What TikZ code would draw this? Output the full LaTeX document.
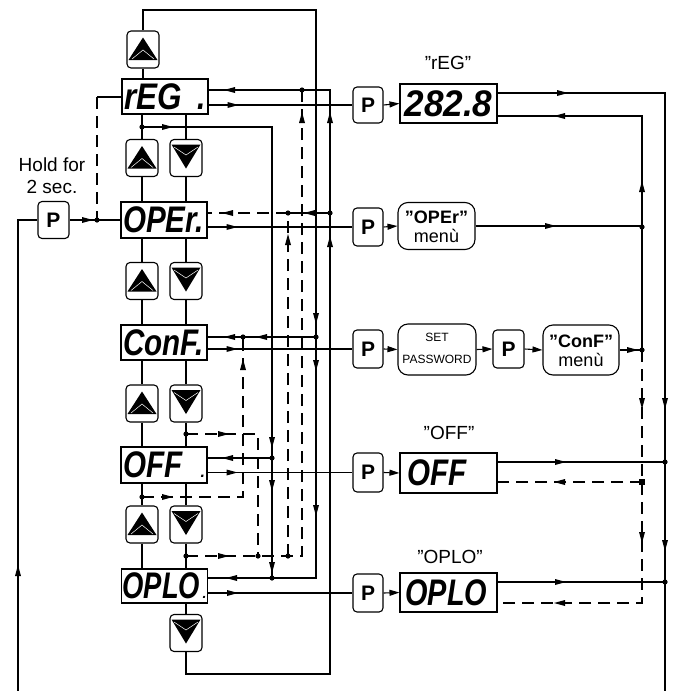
\documentclass[tikz,border=0pt]{standalone}
\usepackage{fontspec}
\usepackage{graphicx}
\setmainfont{Liberation Sans}
\usetikzlibrary{arrows.meta,calc}
\newcommand\arrowat[3]{\pic[rotate=#3] at (#1,#2) {ah};}
\newcommand\jdot[1]{\fill (#1) circle (2.6pt);}
\newcommand\segtext[2][0.8]{\scalebox{#1}[1]{#2}}
\newcommand\qq{\char34\relax}
\tikzset{
  ln/.style={line width=1.1pt},
  dsh/.style={line width=1.1pt, dash pattern=on 12pt off 7pt},
  bx/.style={draw, line width=1.1pt, fill=white, inner sep=0pt},
  disp/.style={bx, minimum width=86pt, minimum height=35pt, font=\fontsize{37}{37}\selectfont\bfseries\itshape},
  rdisp/.style={disp, minimum width=97pt, minimum height=39pt},
  btn/.style={bx, rounded corners=4pt, minimum width=32pt, minimum height=37pt},
  pbtn/.style={btn, minimum width=31pt, font=\fontsize{21}{21}\selectfont\bfseries},
  menu/.style={bx, rounded corners=10pt, minimum width=77pt, minimum height=47pt, align=center},
  mtxt/.style={font=\fontsize{18}{20}\selectfont},
  lbl/.style={font=\fontsize{19}{21}\selectfont},
  ah/.pic={\fill[black] (1,0) -- (-10,3) -- (-10,-3) -- cycle;},
  tip/.style={-{Triangle[length=10pt,width=6pt]}},
  upb/.style={btn, path picture={
    \fill[black, sharp corners] ($(path picture bounding box.center)+(0,-12)$) -- ++(-14.5,22.5) -- ++(29,0) -- cycle;
    \draw[white, line width=0.5pt, sharp corners] ($(path picture bounding box.center)+(-11,9.5)$) -- ++(11,-9) -- ++(11,9);
  }},
  dnb/.style={btn, path picture={
    \fill[black, sharp corners] ($(path picture bounding box.center)+(0,10.5)$) -- ++(-14.5,-24) -- ++(29,0) -- cycle;
    \draw[white, line width=0.5pt, sharp corners] ($(path picture bounding box.center)+(-12,-11)$) -- ++(12,8) -- ++(12,-8);
  }},
}
\begin{document}
\begin{tikzpicture}[x=1pt,y=-1pt]
\useasboundingbox (0,0) rectangle (674,691);

% ---------- left column ----------
\node[upb] (upT) at (143,49.5) {};
\node[disp] (reg) at (165,96.5) {\hbox to 82pt{\segtext[0.85]{rEG}\hss\segtext{.}}};
\node[upb] (up1) at (142,158) {};
\node[dnb] (dn1) at (186,158) {};
\node[disp,minimum height=36pt] (oper) at (164,220) {\hbox to 82pt{\segtext{OPEr.}\hss}};
\node[upb] (up2) at (142,281) {};
\node[dnb] (dn2) at (186,281) {};
\node[disp] (conf) at (164,342.5) {\hbox to 82pt{\segtext{ConF.}\hss}};
\node[upb] (up3) at (142,403.5) {};
\node[dnb] (dn3) at (186,403.5) {};
\node[disp,minimum height=36pt] (off) at (164,465) {\hbox to 82pt{\segtext{OFF}\hss{\fontsize{16}{16}\selectfont.}}};
\node[upb] (up4) at (142,524.5) {};
\node[dnb] (dn4) at (186,524.5) {};
\node[disp,minimum height=34pt] (oplo) at (164.5,586) {\hbox to 84pt{\segtext[0.74]{OPLO}\hss{\fontsize{14}{14}\selectfont.}}};
\node[dnb] (dnB) at (186,633) {};

\node[pbtn] (pH) at (53.5,220) {P};
\node[lbl] (hold1) at (52,165) {Hold for};
\node[lbl] (hold2) at (52,187) {2 sec.};

% ---------- right column ----------
\node[lbl] (lr) at (448,63) {\qq rEG\qq};
\node[pbtn,minimum width=30pt,minimum height=36pt] (pR) at (368,105) {P};
\node[rdisp] (dR) at (448.5,103.5) {\segtext[0.95]{282.8}};

\node[pbtn,minimum width=30pt,minimum height=38pt] (pO) at (368,227) {P};
\node[menu] (mO) at (436.5,226) {};
\node[mtxt,font=\fontsize{18}{20}\selectfont\bfseries] (mO1) at (436.5,217) {\qq OPEr\qq};
\node[mtxt] (mO2) at (436.5,236) {menù};

\node[pbtn,minimum width=30pt,minimum height=38pt] (pC) at (368,349) {P};
\node[menu,minimum width=78pt,minimum height=51pt] (sp) at (437,349.5) {};
\node[font=\fontsize{12}{14}\selectfont] (sp1) at (437,337) {SET};
\node[font=\fontsize{12}{14}\selectfont] (sp2) at (437,359) {PASSWORD};
\node[pbtn,minimum width=31pt,minimum height=38pt] (pC2) at (508.5,349) {P};
\node[menu,minimum width=76pt,minimum height=50pt] (mC) at (581,350) {};
\node[mtxt,font=\fontsize{18}{20}\selectfont\bfseries] (mC1) at (581,341) {\qq ConF\qq};
\node[mtxt] (mC2) at (581,360) {menù};

\node[lbl] (lf) at (449,433) {\qq OFF\qq};
\node[pbtn,minimum width=30pt,minimum height=39pt] (pF) at (368,472.5) {P};
\node[rdisp,minimum height=40pt] (dF) at (448.5,473) {\hbox to 92pt{\hskip5pt\segtext{OFF}\hss}};

\node[lbl] (ll) at (450,557) {\qq OPLO\qq};
\node[pbtn,minimum width=30pt,minimum height=38pt] (pL) at (368,593) {P};
\node[rdisp] (dL) at (448.5,592.5) {\hbox to 92pt{\hskip3pt\segtext[0.78]{OPLO}\hss}};

% ---------- junction coordinates ----------
\coordinate (j1) at (up1.north |- 0,127);
\coordinate (j2) at (dn3.south |- 0,434);
\coordinate (j3) at (up4.north |- 0,497);
\coordinate (j4) at (dn4.south |- 0,556);
\coordinate (jH) at (97,220);
\coordinate (r1) at (642,227);
\coordinate (r2) at (642,350);

% ---------- vertical chains ----------
\draw[ln] (upT.south) -- (upT.south |- reg.north);
\foreach \a/\u/\d/\b in {reg/up1/dn1/oper, oper/up2/dn2/conf, conf/up3/dn3/off, off/up4/dn4/oplo}{
  \draw[ln] (\u.north |- \a.south) -- (\u.north);
  \draw[ln] (\u.south) -- (\u.south |- \b.north);
  \draw[ln] (\d.north |- \a.south) -- (\d.north);
  \draw[ln] (\d.south) -- (\d.south |- \b.north);
}
\draw[ln] (dnB.north |- oplo.south) -- (dnB.north);

% ---------- hold P ----------
\draw[ln] (pH.west) -- (18,220) -- (18,691);
\arrowat{18}{566}{90}
\draw[ln] (pH.east) -- (oper.west);
\arrowat{92}{220}{0}
\draw[dsh] (97,97) -- (jH);
\draw[ln] (97,97) -- (reg.west |- 0,97);

% ---------- top loop (upT -> OPLO) ----------
\draw[ln] (upT.north) -- (upT.north |- 0,10) -- (316,10) -- (316,578) -- (oplo.east |- 0,578);
\arrowat{316}{323}{270}\arrowat{316}{370}{270}\arrowat{316}{515}{270}
\arrowat{227}{578}{180}

% ---------- bottom loop (dnB -> rEG) ----------
\draw[ln] (dnB.south) -- (dnB.south |- 0,674) -- (330,674) -- (330,90) -- (reg.east |- 0,90);
\arrowat{330}{113}{90}\arrowat{330}{237}{90}\arrowat{225}{90}{180}

% OPEr input
\draw[ln] (330,213) -- (288,213);
\draw[dsh] (288,213) -- (oper.east |- 0,213);
\arrowat{305}{213}{180}\arrowat{223}{213}{180}

% ConF input
\draw[ln] (316,337) -- (conf.east |- 0,337);
\arrowat{257}{337}{180}\arrowat{225}{337}{180}

% x = 272 line
\draw[ln] (j1) -- (272,127) -- (272,578);
\arrowat{172}{127}{0}
\arrowat{272}{447}{270}\arrowat{272}{490}{270}\arrowat{272}{572}{270}
\draw[ln] (272,458) -- (off.east |- 0,458);
\arrowat{223}{458}{180}

% dashed lines
\draw[dsh] (j4) -- (302,556) -- (302,90);
\arrowat{228}{556}{0}\arrowat{302}{113}{90}
\draw[dsh] (288,556) -- (288,213);
\arrowat{288}{235}{90}
\draw[dsh] (j2) -- (258,434) -- (258,556);
\arrowat{228}{434}{0}
\draw[dsh] (j3) -- (243,497) -- (243,337);
\arrowat{172}{497}{0}\arrowat{243}{360}{90}

% outputs to P buttons
\foreach \s/\p in {reg/pR, oper/pO, conf/pC, off/pF, oplo/pL}{
  \draw[ln] (\s.east |- \p.west) -- (\p.west);
  \pic at ($(\s.east |- \p.west)+(29,0)$) {ah};
}

% right side
\draw[ln,tip] (pR.east) -- (dR.west);
\draw[ln,tip] (pO.east) -- (mO.west);
\draw[ln,tip] (pC.east) -- (sp.west);
\draw[ln,tip] (sp.east) -- (pC2.west);
\draw[ln,tip] (pC2.east) -- (mC.west);
\draw[ln,tip] (pF.east) -- (dF.west);
\draw[ln,tip] (pL.east) -- (dL.west);

\draw[ln] (dR.east |- 0,93) -- (665,93) -- (665,691);
\arrowat{567}{93}{0}\arrowat{665}{408}{270}\arrowat{665}{550}{270}
\draw[ln] (r2) -- (642,116) -- (dR.east |- 0,116);
\arrowat{642}{182}{90}\arrowat{555}{116}{180}
\draw[ln] (mO.east) -- (mO.east -| r1);
\arrowat{555}{226}{0}
\draw[ln] (mC.east) -- (mC.east -| r2);
\arrowat{637}{350}{0}
\draw[dsh] (r2) -- (642,603) -- (dL.east |- 0,603);
\arrowat{642}{408}{270}\arrowat{642}{542}{270}\arrowat{555}{603}{180}
\draw[dsh] (642,482) -- (dF.east |- 0,482);
\arrowat{555}{482}{180}
\draw[ln] (dF.east |- 0,462) -- (665,462);
\arrowat{565}{462}{0}
\draw[ln] (dL.east |- 0,582) -- (665,582);
\arrowat{565}{582}{0}

% dots
\foreach \c in {jH,j1,j2,j3,j4,r1,r2}{\jdot{\c}}
\foreach \x/\y in {302/90, 330/213, 288/213, 243/337, 316/337, 272/458, 272/578, 258/556, 288/556, 665/462, 665/582}{\fill (\x,\y) circle (2.6pt);}
\fill (639,479) rectangle (645,485);
\end{tikzpicture}
\end{document}
